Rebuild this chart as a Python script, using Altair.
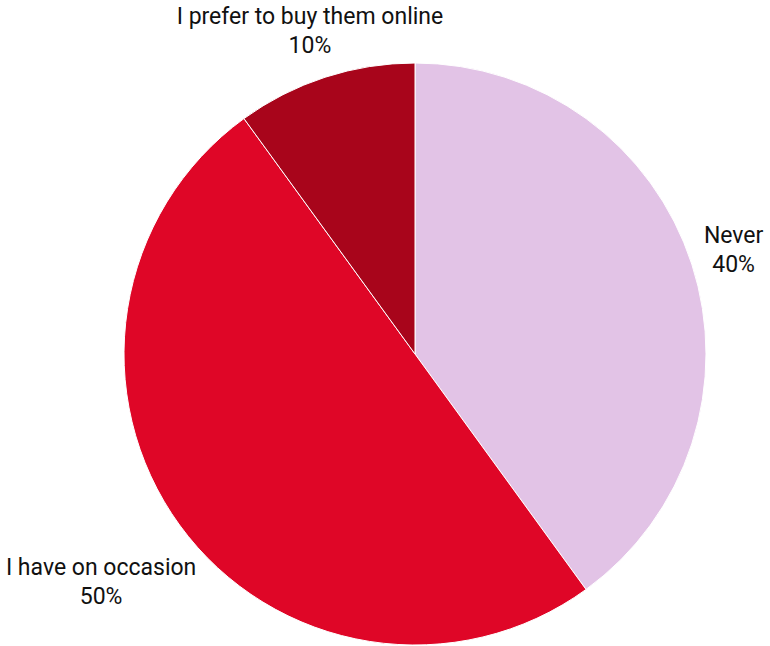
import altair as alt
import pandas as pd

categories = ["Never", "I have on occasion", "I prefer to buy them online"]
values = [40, 50, 10]
colors = ["#E2C3E6", "#DF0627", "#A8051B"]

df = pd.DataFrame({"cat": categories, "value": values, "idx": list(range(len(categories)))})

pie = alt.Chart(df).mark_arc(stroke="white", strokeWidth=1).encode(
    theta=alt.Theta("value:Q", stack=True),
    order=alt.Order("idx:Q"),
    color=alt.Color("cat:N", scale=alt.Scale(domain=categories, range=colors), legend=None),
    radius=alt.value(291),
    x=alt.value(415),
    y=alt.value(354),
)

labels = alt.Chart(df).transform_window(
    cum="sum(value)", sort=[alt.SortField("idx")], frame=[None, 0]
).transform_joinaggregate(
    total="sum(value)"
).transform_calculate(
    mid="(datum.cum - datum.value / 2) / datum.total * 2 * PI",
    lab="datum.cat + '\\n' + datum.value + '%'",
    lr="datum.idx == 1 ? 388 : (datum.idx == 2 ? 340 : 335)",
).mark_text(
    font="Roboto", fontSize=23, lineBreak="\n", lineHeight=29, dy=-14, color="#111111",
    align="center", baseline="middle",
).encode(
    text="lab:N",
    theta=alt.Theta("mid:Q", scale=None),
    radius=alt.Radius("lr:Q", scale=None),
    x=alt.value(415),
    y=alt.value(354),
)

chart = alt.layer(pie, labels).properties(
    width=770, height=646, padding=0, autosize=alt.AutoSizeParams(type="none")
).configure_view(stroke=None)

chart.save("out.html", embed_options={"renderer": "svg", "actions": False})
